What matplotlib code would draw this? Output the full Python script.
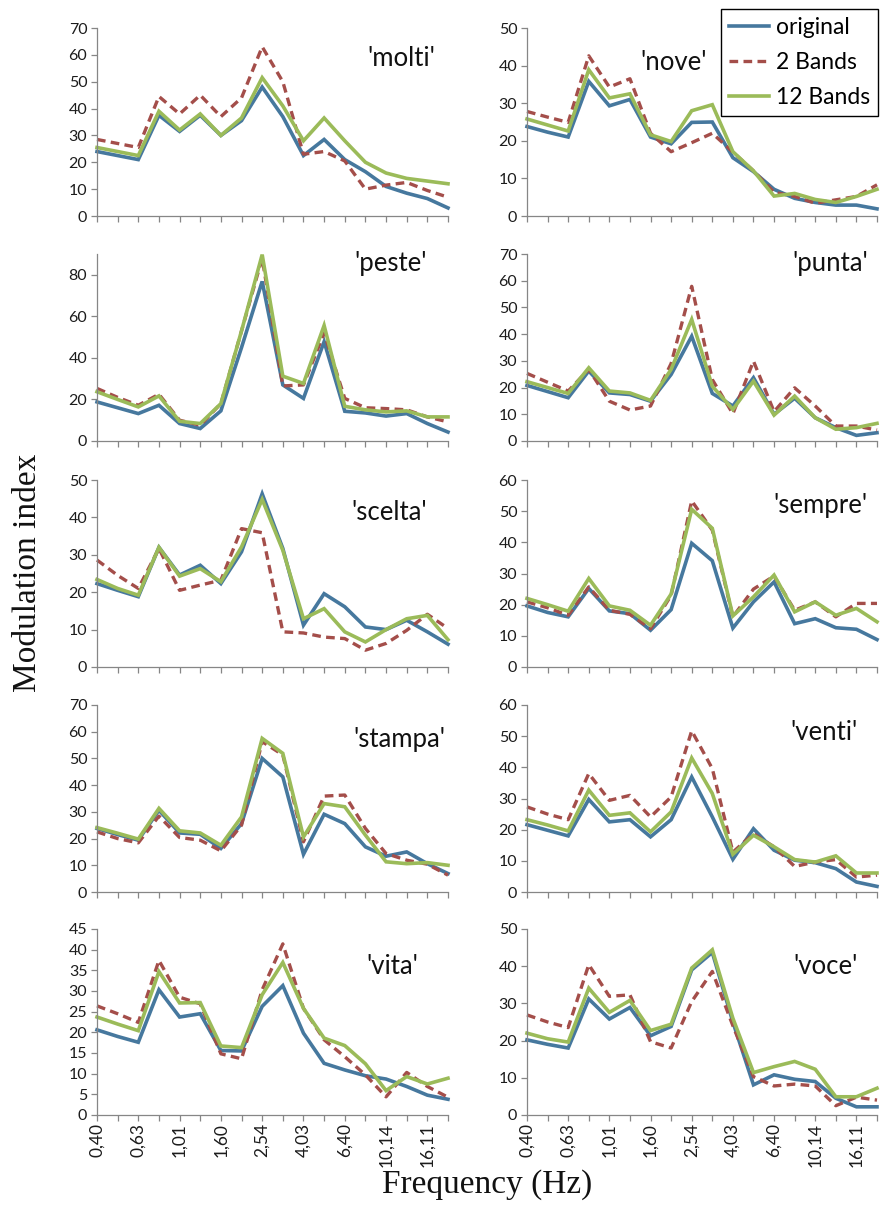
import matplotlib
matplotlib.use("Agg")
import matplotlib.pyplot as plt
from matplotlib.ticker import MultipleLocator
from matplotlib.lines import Line2D

# Modulation frequencies (1/3-octave steps), shown as category labels
freq_labels = ["0,40", "0,50", "0,63", "0,80", "1,01", "1,27", "1,60", "2,02", "2,54",
               "3,20", "4,03", "5,08", "6,40", "8,06", "10,14", "12,78", "16,11", "20,30"]

series_names = ["original", "2 Bands", "12 Bands"]

# ---- 'molti'
molti_original = [24, 22.5, 21, 37.5, 31.5, 37.5, 30, 35.5, 48, 37, 22.5, 28.5, 21, 16.5, 11, 8.5, 6.5, 3]
molti_2bands = [28.5, 27, 25.5, 44.5, 38, 45, 37, 44, 63, 50, 23, 24, 20.5, 10, 11.5, 12.5, 9.5, 7]
molti_12bands = [25.5, 24, 22.5, 39, 32, 38, 30, 36.5, 51.5, 41, 28, 36.5, 28, 20, 16, 14, 13, 12]

# ---- 'nove'
nove_original = [23.8, 22.3, 21, 35.8, 29.3, 31, 21, 19.2, 24.9, 25, 15.5, 11.8, 7.1, 4.7, 3.6, 2.9, 2.9, 1.9]
nove_2bands = [27.8, 26.3, 24.9, 42.6, 34.3, 36.5, 22, 17.1, 19.5, 22, 17, 12, 6.3, 5.2, 3.4, 4.3, 5.2, 8.3]
nove_12bands = [25.8, 24.2, 22.6, 38.9, 31.4, 32.5, 21.6, 19.8, 28, 29.6, 17.1, 12, 5.3, 6, 4.4, 3.6, 5.2, 7.1]

# ---- 'peste'
peste_original = [18.8, 16, 13.2, 17.2, 8.4, 6, 14.5, 45, 76.8, 27, 20.5, 47.8, 14.3, 13.5, 12, 13.2, 8.4, 4.3]
peste_2bands = [25.3, 21, 17.2, 22.5, 10, 7.6, 18, 53, 88, 26.5, 27, 52, 20.5, 16, 15.6, 15, 11.6, 9.2]
peste_12bands = [23.7, 20, 16.4, 21.7, 9.5, 8.4, 18, 53, 89.7, 31.2, 27.7, 55.6, 16.7, 15, 14, 14.5, 11.6, 11.6]

# ---- 'punta'
punta_original = [20.8, 18.5, 16.2, 26.2, 18, 17.4, 14.9, 24.9, 39.2, 17.8, 13.1, 23.7, 10, 16, 8.7, 5, 2.1, 3.1]
punta_2bands = [25.3, 22, 18.7, 26.8, 14.9, 11.6, 13.1, 29, 57.9, 23, 10.2, 29.9, 11, 19.9, 13.1, 5.6, 5.6, 4.1]
punta_12bands = [22.2, 20, 17.8, 27.4, 18.7, 18, 15.2, 26.8, 45.5, 20.5, 11.8, 22.4, 9.7, 16.8, 8.7, 4.4, 5, 6.6]

# ---- 'scelta'
scelta_original = [22.3, 20.5, 18.8, 32, 24.6, 27.2, 22.3, 30.8, 46.3, 31.7, 11.2, 19.6, 16.1, 10.7, 10, 12.5, 9.4, 6.1]
scelta_2bands = [28.6, 24.5, 21, 31.7, 20.5, 21.9, 23.2, 37, 35.9, 9.4, 9.1, 8, 7.6, 4.5, 6.3, 9.8, 14.1, 10.3]
scelta_12bands = [23.4, 21, 19.2, 32, 24.3, 26.3, 22.8, 32.1, 44.8, 31.2, 12.9, 15.6, 9.4, 6.7, 10, 12.9, 13.8, 7.3]

# ---- 'sempre'
sempre_original = [19.6, 17.5, 16.1, 25.2, 18, 17.1, 11.8, 18.4, 39.7, 34.1, 12.5, 20.9, 27.3, 13.9, 15.5, 12.6, 12.1, 8.8]
sempre_2bands = [20.9, 19, 16.6, 25.7, 18.2, 16.9, 12.3, 23, 53.3, 43.9, 16.1, 25, 29.2, 18.2, 20.9, 16.1, 20.4, 20.4]
sempre_12bands = [22, 20, 17.9, 28.4, 19.6, 18.2, 13.4, 23.4, 50.6, 44.5, 16.4, 22.5, 29.5, 17.7, 20.9, 16.6, 18.8, 14.5]

# ---- 'stampa'
stampa_original = [23.8, 21.5, 19.4, 30.6, 22.1, 21.6, 16.3, 25.6, 50, 43.1, 14.1, 29.1, 25.6, 16.9, 13.4, 15, 10.6, 6.9]
stampa_2bands = [22.5, 20, 18.4, 28.4, 20.4, 19.4, 15.4, 25, 56.3, 51.3, 18.8, 35.9, 36.3, 23.8, 14.4, 11.9, 10.4, 6.3]
stampa_12bands = [24.1, 22, 19.8, 31.3, 22.9, 22.1, 17.5, 28.1, 57.5, 51.9, 20.6, 33.1, 31.9, 21.3, 11.3, 10.6, 11, 10]

# ---- 'venti'
venti_original = [21.6, 19.8, 18, 29.7, 22.5, 23.2, 17.7, 23.2, 36.9, 24.1, 10.5, 20.3, 13.4, 10.2, 9.4, 7.5, 3.2, 1.8]
venti_2bands = [27.3, 25, 23.2, 38, 29.4, 31, 24.1, 30.5, 51.7, 39.6, 12.8, 18.7, 14.5, 8.2, 9.6, 10.4, 4.8, 5.4]
venti_12bands = [23.2, 21.5, 19.6, 32.7, 24.6, 25.4, 19.3, 25.7, 43, 31.6, 12.1, 18.2, 14.5, 10.4, 9.6, 11.6, 6.1, 6.1]

# ---- 'vita'
vita_original = [20.6, 19, 17.6, 30.3, 23.7, 24.5, 15.6, 15.5, 26.3, 31.3, 19.8, 12.5, 10.9, 9.5, 8.7, 6.9, 4.8, 3.8]
vita_2bands = [26.4, 24.5, 22.4, 37.4, 28.5, 26.9, 14.8, 13.6, 30.3, 41.4, 25.8, 18.2, 14.1, 9.7, 4.4, 10.3, 6.9, 4.3]
vita_12bands = [23.7, 22, 20.4, 34.7, 27.1, 27.2, 16.7, 16.3, 29.1, 36.9, 25.8, 18.6, 16.8, 12.4, 5.9, 9.3, 7.5, 8.9]

# ---- 'voce'
voce_original = [20.2, 19, 18, 31.2, 25.8, 28.9, 21.3, 23.8, 39, 43.7, 25, 8.1, 10.8, 9.6, 9, 4.5, 2.2, 2.2]
voce_2bands = [26.9, 25, 23.5, 40.4, 31.9, 32.3, 19.7, 18, 30.5, 38.6, 24, 10.3, 7.8, 8.3, 7.8, 2.5, 4.8, 4]
voce_12bands = [22, 20.5, 19.6, 34.1, 27.6, 30.8, 22.7, 24.4, 39.5, 44.4, 26, 11.4, 13, 14.4, 12.3, 4.9, 4.9, 7.2]

panels = [
    ("'molti'", (molti_original, molti_2bands, molti_12bands), 70, 10),
    ("'nove'", (nove_original, nove_2bands, nove_12bands), 50, 10),
    ("'peste'", (peste_original, peste_2bands, peste_12bands), 90, 20),
    ("'punta'", (punta_original, punta_2bands, punta_12bands), 70, 10),
    ("'scelta'", (scelta_original, scelta_2bands, scelta_12bands), 50, 10),
    ("'sempre'", (sempre_original, sempre_2bands, sempre_12bands), 60, 10),
    ("'stampa'", (stampa_original, stampa_2bands, stampa_12bands), 70, 10),
    ("'venti'", (venti_original, venti_2bands, venti_12bands), 60, 10),
    ("'vita'", (vita_original, vita_2bands, vita_12bands), 45, 5),
    ("'voce'", (voce_original, voce_2bands, voce_12bands), 50, 10),
]

W, H = 880, 1220
fig = plt.figure(figsize=(W / 100, H / 100), dpi=100)
fig.patch.set_facecolor("white")

SANS = ["Lato", "DejaVu Sans"]
SERIF = ["Liberation Serif", "DejaVu Serif"]
AXIS_GREY = "#868686"

colors = ["#46789e", "#a44e4a", "#9bbb59"]
styles = ["-", (0, (2.6, 1.6)), "-"]
widths = [2.6, 2.4, 2.6]

col_x = [(97, 448), (527, 877)]
row_y = [(28, 216), (254, 441), (480, 667), (705, 892), (929, 1115)]

# title anchors: right edge x and vertical centre, in pixels
title_pos = [(435, 58), (707, 62), (427, 263), (868, 263), (427, 512),
             (867, 505), (445, 740), (858, 732), (418, 967), (858, 967)]

xs = list(range(len(freq_labels)))

for k, (title, series, ymax, ystep) in enumerate(panels):
    r, c = divmod(k, 2)
    x0, x1 = col_x[c]
    top, bot = row_y[r]
    ax = fig.add_axes([x0 / W, 1 - bot / H, (x1 - x0) / W, (bot - top) / H])
    ax.patch.set_alpha(0)

    for vals, col, ls, lw in zip(series, colors, styles, widths):
        ax.plot(xs, vals, color=col, linestyle=ls, linewidth=lw, clip_on=False,
                solid_joinstyle="miter", dash_capstyle="butt")

    ax.set_xlim(0, len(xs) - 1)
    ax.set_ylim(0, ymax)
    ax.yaxis.set_major_locator(MultipleLocator(ystep))
    ax.set_xticks(xs)

    for side in ("top", "right"):
        ax.spines[side].set_visible(False)
    for side in ("left", "bottom"):
        ax.spines[side].set_color(AXIS_GREY)
        ax.spines[side].set_linewidth(0.9)

    ax.tick_params(axis="both", direction="out", length=4, width=0.9, color=AXIS_GREY,
                   labelsize=11.5, labelcolor="#1c1c1c")
    ax.tick_params(axis="y", pad=3)
    for lab in ax.get_yticklabels():
        lab.set_family(SANS)

    if r == len(row_y) - 1:
        ax.set_xticklabels([lab if i % 2 == 0 else "" for i, lab in enumerate(freq_labels)],
                           rotation=90, family=SANS, fontsize=12.5)
        ax.tick_params(axis="x", pad=2)
    else:
        ax.tick_params(axis="x", labelbottom=False)

    tx, ty = title_pos[k]
    fig.text(tx / W, 1 - ty / H, title, ha="right", va="center",
             family=SANS, fontsize=18.5, color="#111111")

# legend in the upper right corner
handles = [Line2D([], [], color=col, linestyle=ls, linewidth=lw)
           for col, ls, lw in zip(colors, styles, widths)]
leg = fig.legend(handles, series_names, loc="upper right",
                 bbox_to_anchor=(878 / W, 1 - 9 / H), frameon=True, fancybox=False,
                 framealpha=1, edgecolor="black", prop={"family": SANS, "size": 16.5},
                 handlelength=1.75, handletextpad=0.3, labelspacing=0.62,
                 borderpad=0.35, borderaxespad=0)
leg.get_frame().set_linewidth(1.0)

fig.text(28 / W, 1 - 573 / H, "Modulation index", rotation=90, ha="center", va="center",
         family=SERIF, fontsize=24, color="#111111")
fig.text(487 / W, 1 - 1185 / H, "Frequency (Hz)", ha="center", va="center",
         family=SERIF, fontsize=24, color="#111111")

fig.savefig("out.png", dpi=100, facecolor="white")
